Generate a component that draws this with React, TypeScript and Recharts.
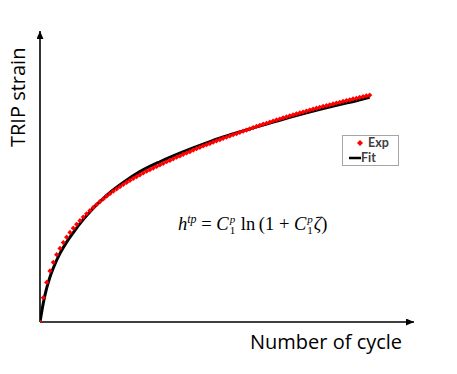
import { ComposedChart, Line, Scatter, XAxis, YAxis } from "recharts";

// measured strain, one point per cycle (0..99)
const EXP_STRAIN = [
    0, 0.108, 0.176, 0.227, 0.265, 0.299, 0.327, 0.353, 0.377, 0.398,
    0.417, 0.434, 0.45, 0.466, 0.481, 0.495, 0.509, 0.522, 0.535, 0.547,
    0.559, 0.57, 0.581, 0.591, 0.601, 0.611, 0.62, 0.629, 0.638, 0.646,
    0.654, 0.662, 0.67, 0.677, 0.684, 0.691, 0.698, 0.705, 0.712, 0.718,
    0.725, 0.732, 0.738, 0.745, 0.751, 0.757, 0.764, 0.77, 0.776, 0.782,
    0.788, 0.793, 0.799, 0.805, 0.81, 0.816, 0.821, 0.827, 0.832, 0.837,
    0.843, 0.848, 0.853, 0.858, 0.864, 0.869, 0.874, 0.879, 0.883, 0.888,
    0.893, 0.898, 0.902, 0.907, 0.911, 0.916, 0.92, 0.925, 0.929, 0.933,
    0.937, 0.942, 0.946, 0.95, 0.954, 0.958, 0.961, 0.965, 0.969, 0.973,
    0.976, 0.98, 0.984, 0.987, 0.991, 0.994, 0.998, 1.001, 1.005, 1.008,
];

// fitted curve h = C ln(1 + C zeta), read at a few cycles
const FIT_CYCLES = [0, 1, 2, 3, 4, 6, 8, 10, 12, 16, 20, 25, 30, 36, 40, 45, 50, 55, 60, 65, 70, 75, 80, 85, 90, 95, 99];
const FIT_STRAIN = [
    0, 0.085, 0.15, 0.2, 0.24, 0.305, 0.355, 0.397, 0.437, 0.505, 0.563, 0.62, 0.668, 0.712,
    0.738, 0.768, 0.796, 0.822, 0.845, 0.867, 0.888, 0.909, 0.929, 0.948, 0.966, 0.983, 0.998,
];

const X_MAX = 112.3;
const Y_MAX = 1.293;

const expData = EXP_STRAIN.map((s, i) => ({ cycle: i, strain: s }));
const fitData = FIT_CYCLES.map((c, i) => ({ cycle: c, strain: FIT_STRAIN[i] }));

const Diamond = (props: any) => {
    const { cx, cy } = props;
    const r = 2.6;
    return <path d={`M${cx},${cy - r}L${cx + r},${cy}L${cx},${cy + r}L${cx - r},${cy}Z`} fill="#ff0000" />;
};

const LegendBox = () => (
    <div style={{
        position: "absolute", left: 342, top: 135, width: 57, height: 31,
        border: "1px solid #a6a6a6", background: "#fff",
        fontFamily: "Lato, sans-serif", fontWeight: 700, fontSize: 12.5, color: "#404040",
        boxSizing: "border-box",
    }}>
        <div style={{ position: "absolute", left: 13, top: 0, display: "flex", alignItems: "center" }}>
            <svg width={8} height={8} style={{ marginRight: 4 }}>
                <path d="M4,1L7,4L4,7L1,4Z" fill="#ff0000" />
            </svg>
            <span style={{ lineHeight: "14px" }}>Exp</span>
        </div>
        <div style={{ position: "absolute", left: 6, top: 15, display: "flex", alignItems: "center" }}>
            <svg width={12} height={8}>
                <line x1={0} y1={4} x2={12} y2={4} stroke="#000" strokeWidth={2.5} />
            </svg>
            <span style={{ lineHeight: "14px" }}>Fit</span>
        </div>
    </div>
);

const stack: React.CSSProperties = {
    display: "inline-flex", flexDirection: "column", fontSize: 11, lineHeight: "11px",
    verticalAlign: "7px", marginLeft: 1, marginRight: 1,
};

export default function App() {
    return (
        <div style={{ position: "fixed", left: 0, top: 0, width: 457, height: 374, background: "#fff" }}>
            <ComposedChart width={457} height={374} margin={{ top: 31, right: 43, bottom: 51, left: 39 }}>
                <defs>
                    <marker id="axis-arrow" viewBox="0 0 10 10" refX={10} refY={5} markerWidth={8} markerHeight={7}
                        markerUnits="userSpaceOnUse" orient="auto-start-reverse" preserveAspectRatio="none">
                        <path d="M0,0L10,5L0,10Z" fill="#000" />
                    </marker>
                </defs>
                <XAxis
                    type="number"
                    dataKey="cycle"
                    domain={[0, X_MAX]}
                    allowDataOverflow
                    height={1}
                    tick={false}
                    tickLine={false}
                    axisLine={{ stroke: "#000", strokeWidth: 1.6, markerEnd: "url(#axis-arrow)" }}
                />
                <YAxis
                    type="number"
                    dataKey="strain"
                    domain={[0, Y_MAX]}
                    allowDataOverflow
                    width={1}
                    tick={false}
                    tickLine={false}
                    axisLine={{ stroke: "#000", strokeWidth: 1.6, markerStart: "url(#axis-arrow)" }}
                />
                <Line
                    data={fitData}
                    dataKey="strain"
                    type="monotone"
                    stroke="#000"
                    strokeWidth={3}
                    dot={false}
                    isAnimationActive={false}
                    name="Fit"
                />
                <Scatter
                    data={expData}
                    dataKey="strain"
                    shape={<Diamond />}
                    isAnimationActive={false}
                    name="Exp"
                />
            </ComposedChart>
            <LegendBox />
            <svg width={457} height={374} style={{ position: "absolute", left: 0, top: 0, pointerEvents: "none" }}>
                <text transform="translate(25,147) rotate(-90)" fontFamily="'Open Sans', sans-serif" fontSize={20} fill="#000">
                    TRIP strain
                </text>
                <text x={250} y={349} fontFamily="'Open Sans', sans-serif" fontSize={20} fill="#000">
                    Number of cycle
                </text>
            </svg>
            <div style={{
                position: "absolute", left: 178, top: 209, fontFamily: "'Liberation Serif', serif",
                fontSize: 18.5, whiteSpace: "nowrap", color: "#000", lineHeight: "20px",
            }}>
                <i>h</i><span style={{ fontSize: 12, verticalAlign: "7px", fontStyle: "italic" }}>tp</span>
                {" = "}<i>C</i><span style={stack}><i>p</i><span>1</span></span>
                {" ln\u2009(1 + "}<i>C</i><span style={stack}><i>p</i><span>1</span></span><i>ζ</i>)
            </div>
        </div>
    );
}
